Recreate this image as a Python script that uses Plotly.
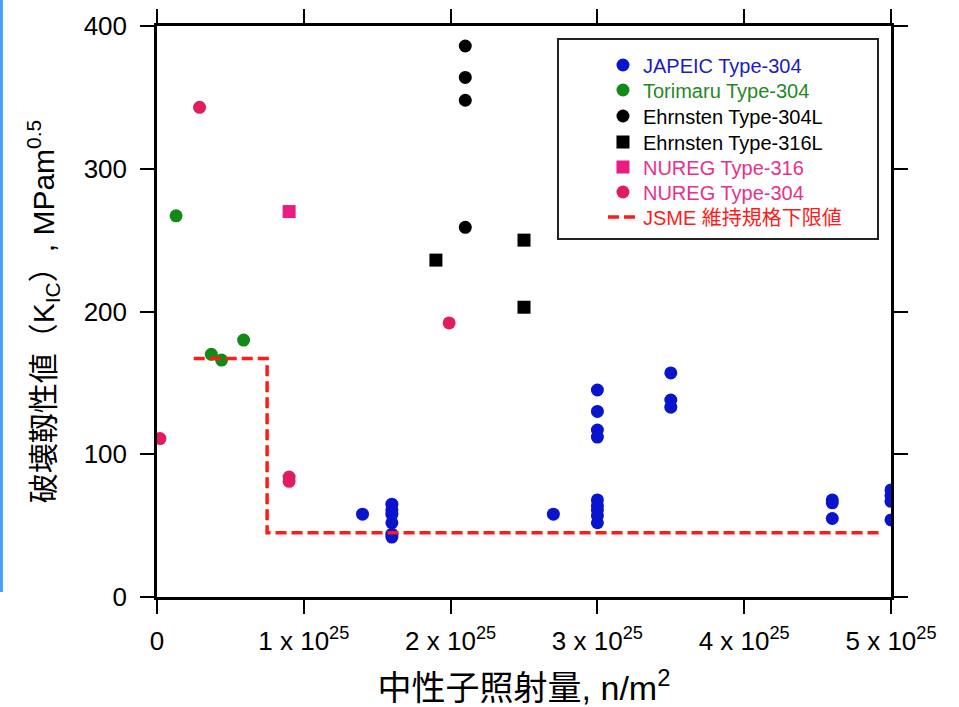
import plotly.graph_objects as go

# ---- data (x in n/m^2, y in MPa m^0.5) ----
japeic_x = [1.4e25, 1.6e25, 1.6e25, 1.6e25, 1.6e25, 1.6e25, 1.6e25,
            2.7e25,
            3.0e25, 3.0e25, 3.0e25, 3.0e25, 3.0e25, 3.0e25, 3.0e25, 3.0e25, 3.0e25,
            3.5e25, 3.5e25, 3.5e25,
            4.6e25, 4.6e25, 4.6e25,
            5.0e25, 5.0e25, 5.0e25, 5.0e25]
japeic_y = [58, 65, 61, 58, 52, 44, 42,
            58,
            145, 130, 117, 112, 68, 64, 61, 57, 52,
            157, 138, 133,
            68, 66, 55,
            75, 71, 67, 54]

torimaru_x = [0.13e25, 0.37e25, 0.44e25, 0.59e25]
torimaru_y = [267, 170, 166, 180]

ehr304l_x = [2.1e25, 2.1e25, 2.1e25, 2.1e25]
ehr304l_y = [386, 364, 348, 259]

ehr316l_x = [1.9e25, 2.5e25, 2.5e25]
ehr316l_y = [236, 250, 203]

nureg316_x = [0.9e25]
nureg316_y = [270]

nureg304_x = [0.02e25, 0.29e25, 0.9e25, 0.9e25, 1.99e25]
nureg304_y = [111, 343, 84, 81, 192]

jsme_x = [0.25e25, 0.75e25, 0.75e25, 4.93e25]
jsme_y = [167, 167, 45, 45]

xtick_vals = [0, 1e25, 2e25, 3e25, 4e25, 5e25]
xtick_text = ["0", "1 x 10<sup>25</sup>", "2 x 10<sup>25</sup>", "3 x 10<sup>25</sup>",
              "4 x 10<sup>25</sup>", "5 x 10<sup>25</sup>"]
ytick_vals = [0, 100, 200, 300, 400]

FONT = "Liberation Sans, Arial, Noto Sans CJK JP, sans-serif"

def lab(text, color):
    return f"<span style='color:{color}'>{text}</span>"

fig = go.Figure()
ms = 13
traces = [
    (japeic_x, japeic_y, "markers", dict(symbol="circle", size=ms, color="#0a14cc"), None,
     lab("JAPEIC Type-304", "#1c1cc0")),
    (torimaru_x, torimaru_y, "markers", dict(symbol="circle", size=ms, color="#138a18"), None,
     lab("Torimaru Type-304", "#1f8a24")),
    (ehr304l_x, ehr304l_y, "markers", dict(symbol="circle", size=ms, color="#000000"), None,
     lab("Ehrnsten Type-304L", "#000000")),
    (ehr316l_x, ehr316l_y, "markers", dict(symbol="square", size=ms, color="#000000"), None,
     lab("Ehrnsten Type-316L", "#000000")),
    (nureg316_x, nureg316_y, "markers", dict(symbol="square", size=ms, color="#ec1b82"), None,
     lab("NUREG Type-316", "#e8308c")),
    (nureg304_x, nureg304_y, "markers", dict(symbol="circle", size=ms, color="#e21d5c"), None,
     lab("NUREG Type-304", "#e8308c")),
    (jsme_x, jsme_y, "lines", None, dict(color="#ff1a1a", width=3.5, dash="11px,5px"),
     lab("JSME 維持規格下限値", "#ff1a1a")),
]

legend_rows = [0.9317, 0.8879, 0.8424, 0.7968, 0.7531, 0.7093, 0.6655]

layout_legends = {}
for i, (xs, ys, mode, mk, ln, name) in enumerate(traces):
    lname = "legend" if i == 0 else f"legend{i+1}"
    kw = dict(x=xs, y=ys, mode=mode, name=name, legend=lname)
    if mk is not None:
        kw["marker"] = mk
    if ln is not None:
        kw["line"] = ln
    fig.add_trace(go.Scatter(**kw))
    layout_legends[lname] = dict(x=0.6076, y=legend_rows[i], xanchor="left", yanchor="middle",
                                 bgcolor="rgba(0,0,0,0)", borderwidth=0,
                                 font=dict(family=FONT, size=20, color="black"))

axis_common = dict(showline=True, linecolor="black", linewidth=2.5, mirror="ticks",
                   ticks="outside", ticklen=14, tickwidth=2, tickcolor="black",
                   showgrid=False, zeroline=False, automargin=False,
                   tickfont=dict(family=FONT, size=26, color="black"))

fig.update_xaxes(range=[0, 5e25], tickmode="array", tickvals=xtick_vals, ticktext=xtick_text,
                 title=dict(text="中性子照射量, n/m<sup>2</sup>",
                            font=dict(family=FONT, size=34, color="black"), standoff=30),
                 ticklabelstandoff=5, **axis_common)
fig.update_yaxes(range=[0, 400], tickmode="array", tickvals=ytick_vals,
                 title=dict(text="破壊靱性値（K<sub>IC</sub>）, MPam<sup>0.5</sup>",
                            font=dict(family=FONT, size=30, color="black"), standoff=21),
                 ticklabelstandoff=8, **axis_common)

fig.update_layout(
    width=959, height=707,
    margin=dict(l=157, r=68, t=26, b=110),
    paper_bgcolor="white", plot_bgcolor="white",
    showlegend=True,
    shapes=[
        dict(type="rect", xref="paper", yref="paper", x0=0.5463, x1=0.9823, y0=0.6270, y1=0.9772,
             line=dict(color="#222222", width=2), fillcolor="rgba(0,0,0,0)", layer="below"),
        dict(type="line", xref="paper", yref="paper", x0=-0.2119, x1=-0.2119, y0=0.0088, y1=1.0455,
             line=dict(color="#4d9fff", width=3)),
    ],
    **layout_legends,
)

fig.write_html("out.html", config={"displayModeBar": False},
               post_script="document.body.style.margin='0';")
